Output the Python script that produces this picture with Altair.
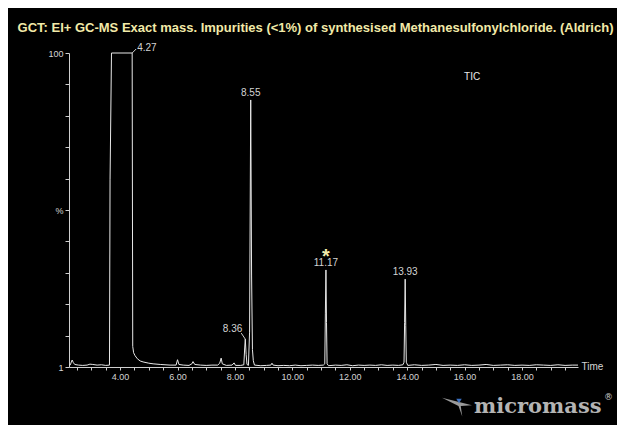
import altair as alt
import pandas as pd

# ---- chromatogram trace (retention time in min, relative intensity %) ----
times = [
    2.22, 2.27, 2.30, 2.33, 2.37, 2.42, 2.55, 2.70, 2.85, 2.95,
    3.05, 3.20, 3.35, 3.50, 3.63, 3.65, 3.70, 4.42, 4.44, 4.47,
    4.52, 4.60, 4.70, 4.80, 5.00, 5.15, 5.40, 5.74, 5.95, 6.00,
    6.05, 6.20, 6.40, 6.50, 6.54, 6.60, 6.80, 7.00, 7.20, 7.40,
    7.47, 7.52, 7.56, 7.70, 7.90, 7.97, 8.02, 8.20, 8.31, 8.34,
    8.36, 8.39, 8.42, 8.47, 8.51, 8.55, 8.58, 8.61, 8.64, 8.68,
    8.90, 9.10, 9.25, 9.29, 9.33, 9.50, 9.70, 9.90, 10.10, 10.30,
    10.50, 10.70, 10.90, 11.08, 11.13, 11.15, 11.17, 11.19, 11.21, 11.26,
    11.50, 11.70, 11.90, 12.10, 12.30, 12.50, 12.70, 12.90, 13.10, 13.30,
    13.50, 13.70, 13.85, 13.89, 13.91, 13.93, 13.95, 13.97, 14.02, 14.25,
    14.50, 14.75, 15.00, 15.25, 15.50, 15.75, 16.00, 16.25, 16.50, 16.75,
    17.00, 17.25, 17.50, 17.75, 18.00, 18.25, 18.50, 18.75, 19.00, 19.25,
    19.50, 19.75, 19.95,
]
intensity = [
    1.6, 1.7, 2.6, 3.2, 2.4, 1.8, 1.6, 1.5, 1.6, 1.9,
    1.8, 1.6, 1.7, 1.5, 1.6, 60.0, 100.0, 100.0, 7.5, 5.5,
    4.6, 3.6, 2.9, 2.6, 2.2, 2.0, 1.8, 1.6, 1.6, 3.3,
    1.8, 1.6, 1.5, 2.0, 2.7, 1.8, 1.6, 1.5, 1.6, 1.6,
    2.2, 3.8, 2.0, 1.5, 1.6, 2.3, 1.5, 1.5, 1.7, 7.0,
    9.8, 5.0, 1.8, 1.5, 12.0, 85.2, 30.0, 6.5, 3.0, 1.6,
    1.4, 1.5, 1.6, 2.2, 1.6, 1.4, 1.5, 1.4, 1.6, 1.4,
    1.5, 1.6, 1.5, 1.6, 2.0, 18.0, 31.6, 15.0, 2.0, 1.4,
    1.6, 1.5, 1.7, 1.4, 1.6, 1.5, 1.6, 1.5, 1.7, 1.5,
    1.6, 1.5, 1.7, 2.5, 15.0, 28.7, 14.0, 2.5, 1.5, 1.7,
    1.5, 1.6, 1.8, 1.5, 1.6, 1.5, 1.7, 1.5, 1.6, 1.8,
    1.5, 1.6, 1.7, 1.5, 1.6, 1.5, 1.7, 1.6, 1.5, 1.7,
    1.5, 1.6, 1.6,
]
assert len(times) == len(intensity)

# ---- peak labels ----
center_labels = ["8.55", "11.17", "13.93"]
center_t = [8.55, 11.17, 13.93]
center_v = [85.2, 31.6, 28.7]

left_labels = ["4.27"]
left_t = [4.42]
left_v = [100.0]

right_labels = ["8.36"]
right_t = [8.36]
right_v = [9.8]

star_t = [11.17]
star_v = [31.6]

tic_text = ["TIC"]
tic_t = [16.26]
tic_v = [92.4]

x_ticks = [2.5 + 0.5 * i for i in range(35)]
y_ticks = [1.0, 10.9, 20.8, 30.7, 40.6, 50.5, 60.4, 70.3, 80.2, 90.1, 100.0]

TITLE = "GCT: EI+ GC-MS Exact mass. Impurities (<1%) of synthesised Methanesulfonylchloride. (Aldrich)"
FONT = "Liberation Sans"
FG = "#d4d4d4"

x_enc = alt.X(
    "t:Q",
    scale=alt.Scale(domain=[2.22, 19.95], nice=False, zero=False),
    axis=alt.Axis(
        values=x_ticks,
        labelExpr="datum.value % 2 == 0 ? format(datum.value, '.2f') : ''",
        title="Time",
        titleX=512, titleY=-1, titleAlign="left", titleBaseline="middle",
        titleFont=FONT, titleFontSize=10, titleFontWeight="normal", titleColor=FG,
        tickSize=3, labelPadding=2, labelFontSize=9, labelFont=FONT, labelColor=FG,
        domainColor="#cfcfcf", tickColor="#cfcfcf", grid=False, labelFlush=False,
    ),
)
y_enc = alt.Y(
    "v:Q",
    scale=alt.Scale(domain=[1, 100], nice=False, zero=False),
    axis=alt.Axis(
        values=y_ticks,
        labelExpr="datum.value == 100 ? '100' : (datum.value == 1 ? '1' : (abs(datum.value - 50.5) < 0.01 ? '%' : ''))",
        title=None, tickSize=4, labelPadding=2, labelFontSize=9, labelFont=FONT,
        labelColor=FG, domainColor="#cfcfcf", tickColor="#cfcfcf", grid=False,
    ),
)

trace_df = pd.DataFrame({"t": times, "v": intensity})
line = alt.Chart(trace_df).mark_line(color="#e8e8e8", strokeWidth=1).encode(x=x_enc, y=y_enc)

cdf = pd.DataFrame({"t": center_t, "v": center_v, "lab": center_labels})
lab_c = alt.Chart(cdf).mark_text(font=FONT, fontSize=10, color=FG, baseline="bottom", dy=-2).encode(
    x=x_enc, y=y_enc, text="lab:N")

ldf = pd.DataFrame({"t": left_t, "v": left_v, "lab": left_labels})
lab_l = alt.Chart(ldf).mark_text(font=FONT, fontSize=10, color=FG, align="left", baseline="middle", dx=5, dy=-5).encode(
    x=x_enc, y=y_enc, text="lab:N")
lead_l = alt.Chart(ldf).mark_point(shape="M0,0L1,-1", size=64, filled=False, color="#cfcfcf", strokeWidth=1, opacity=1).encode(
    x=x_enc, y=y_enc)

rdf = pd.DataFrame({"t": right_t, "v": right_v, "lab": right_labels})
lab_r = alt.Chart(rdf).mark_text(font=FONT, fontSize=10, color=FG, align="right", baseline="middle", dx=-3, dy=-10).encode(
    x=x_enc, y=y_enc, text="lab:N")
lead_r = alt.Chart(rdf).mark_point(shape="M0,0L-0.67,-1", size=144, filled=False, color="#cfcfcf", strokeWidth=1, opacity=1).encode(
    x=x_enc, y=y_enc)

sdf = pd.DataFrame({"t": star_t, "v": star_v, "lab": ["*"]})
star = alt.Chart(sdf).mark_text(font=FONT, fontSize=20, fontWeight="bold", color="#f4ecac", baseline="top", dy=-23).encode(
    x=x_enc, y=y_enc, text="lab:N")

tdf = pd.DataFrame({"t": tic_t, "v": tic_v, "lab": tic_text})
tic = alt.Chart(tdf).mark_text(font=FONT, fontSize=10, color="#e8e8e8", baseline="middle").encode(
    x=x_enc, y=y_enc, text="lab:N")

# ---- micromass logo (decoration) ----
logo_df = pd.DataFrame({"lab": ["micromass"]})
logo = alt.Chart(logo_df).mark_text(font="DejaVu Serif", fontSize=21, fontWeight="bold", color="#b4b4b4",
                                     align="left", baseline="alphabetic").encode(
    x=alt.value(405), y=alt.value(360), text="lab:N")
reg = alt.Chart(pd.DataFrame({"lab": ["®"]})).mark_text(font="DejaVu Sans", fontSize=9, color="#c8c8c8",
                                                       align="left", baseline="middle").encode(
    x=alt.value(535), y=alt.value(344), text="lab:N")
wing = alt.Chart(pd.DataFrame({"k": [1]})).mark_point(
    shape="M-1,-0.35 L1,0.15 L0.25,0.2 L0.35,0.9 L0.1,0.2 Z", size=900, filled=True, color="#9a9a9a", opacity=1
).encode(x=alt.value(388), y=alt.value(350))
blue = alt.Chart(pd.DataFrame({"k": [1]})).mark_point(
    shape="triangle-down", size=30, filled=True, color="#3a6fc0", opacity=1
).encode(x=alt.value(390), y=alt.value(348))

chart = alt.layer(line, lab_c, lab_l, lead_l, lab_r, lead_r, star, tic, logo, reg, wing, blue).properties(
    width=509, height=314,
    autosize=alt.AutoSizeParams(type="none"),
    padding={"left": 61, "top": 45, "right": 39, "bottom": 58},
    background="black",
    title=alt.TitleParams(TITLE, font=FONT, fontSize=13, fontWeight="bold", color="#f2eaa8",
                          anchor="middle", frame="group", dx=-8, offset=8),
).configure_view(stroke=None)

chart.save("out.html", embed_options={"renderer": "svg", "actions": False})
